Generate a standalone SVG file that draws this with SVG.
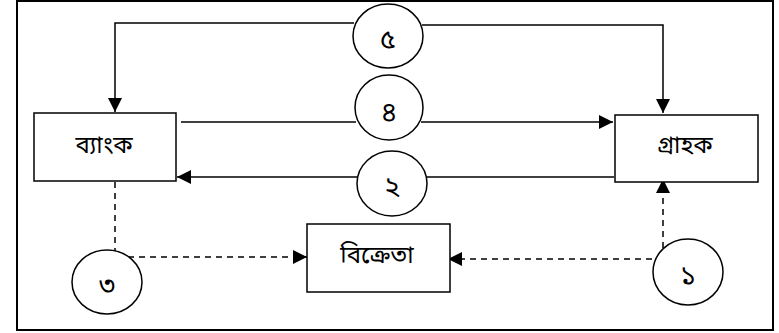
<svg xmlns="http://www.w3.org/2000/svg" width="779" height="333" viewBox="0 0 779 333">
  <style>
    .frame { fill: #fff; stroke: #000; stroke-width: 2; }
    .box { fill: #fff; stroke: #000; stroke-width: 1.5; }
    .ring { fill: #fff; stroke: #000; stroke-width: 1.5; }
    .solid { fill: none; stroke: #000; stroke-width: 1.5; }
    .dash { fill: none; stroke: #000; stroke-width: 1.5; stroke-dasharray: 6 5; }
    .label { font-family: "Noto Sans Bengali", "Noto Sans", "Lohit Bengali", sans-serif; font-size: 24px; text-anchor: middle; fill: #000; }
    .num { font-family: "Noto Sans Bengali", "Noto Sans", "Lohit Bengali", sans-serif; font-size: 27px; text-anchor: middle; fill: #000; }
  </style>
  <defs>
    <marker id="arrow" viewBox="0 0 10 10" refX="10" refY="5" markerWidth="14" markerHeight="14" markerUnits="userSpaceOnUse" orient="auto">
      <path d="M0,0 L10,5 L0,10 Z" fill="#000"/>
    </marker>
  </defs>

  <rect class="frame" x="17" y="1" width="756" height="329"/>

  <g id="connectors">
    <!-- 5: splits to bank and customer -->
    <polyline class="solid" points="354,23 115,23 115,112" marker-end="url(#arrow)"/>
    <polyline class="solid" points="422,25 663,25 663,113" marker-end="url(#arrow)"/>
    <!-- 4: bank to customer -->
    <line class="solid" x1="181" y1="122" x2="356" y2="122"/>
    <line class="solid" x1="421" y1="122" x2="613" y2="122" marker-end="url(#arrow)"/>
    <!-- 2: customer to bank -->
    <line class="solid" x1="614" y1="177" x2="426" y2="177"/>
    <line class="solid" x1="358" y1="177" x2="177" y2="177" marker-end="url(#arrow)"/>
    <!-- 3: bank to seller (dashed) -->
    <polyline class="dash" points="115,182 115,257 307,257" marker-end="url(#arrow)"/>
    <!-- 1: to customer and seller (dashed) -->
    <polyline class="dash" points="663,259 663,179" marker-end="url(#arrow)"/>
    <polyline class="dash" points="663,259 448,259" marker-end="url(#arrow)"/>
  </g>

  <g id="bank">
    <rect class="box" x="34" y="113" width="142" height="68"/>
    <text class="label" x="104" y="153">ব্যাংক</text>
  </g>
  <g id="customer">
    <rect class="box" x="615" y="115" width="143" height="67"/>
    <text class="label" x="685" y="153">গ্রাহক</text>
  </g>
  <g id="seller">
    <rect class="box" x="307" y="224" width="143" height="68"/>
    <text class="label" x="377" y="263">বিক্রেতা</text>
  </g>

  <g id="step5">
    <ellipse class="ring" cx="388" cy="36" rx="35" ry="32"/>
    <text class="num" x="388" y="48">৫</text>
  </g>
  <g id="step4">
    <ellipse class="ring" cx="389" cy="107.5" rx="34" ry="32.5"/>
    <text class="num" x="389" y="121">৪</text>
  </g>
  <g id="step2">
    <ellipse class="ring" cx="392" cy="183.5" rx="35" ry="32.5"/>
    <text class="num" x="392" y="196">২</text>
  </g>
  <g id="step3">
    <ellipse class="ring" cx="107" cy="282" rx="35" ry="32"/>
    <text class="num" x="107" y="294">৩</text>
  </g>
  <g id="step1">
    <ellipse class="ring" cx="688" cy="272" rx="35" ry="33"/>
    <text class="num" x="688" y="284">১</text>
  </g>
</svg>
